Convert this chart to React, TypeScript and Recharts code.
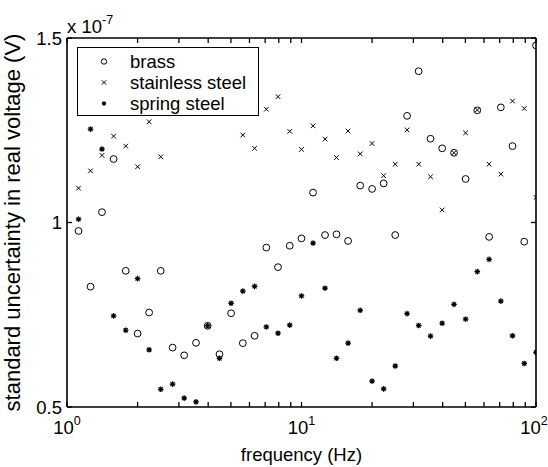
import { Legend, Scatter, ScatterChart, XAxis, YAxis } from "recharts";

const FONT = '"Liberation Sans", Arial, Helvetica, sans-serif';
const FS = 18.5;
const YFS = 22;

// frequencies (Hz), 20 points per decade
const freqs = [
  1.12, 1.26, 1.41, 1.58, 1.78, 2, 2.24, 2.51, 2.82, 3.16, 3.55, 3.98, 4.47, 5.01, 5.62, 6.31, 7.08, 7.94, 8.91, 10,
  11.2, 12.6, 14.1, 15.8, 17.8, 20, 22.4, 25.1, 28.2, 31.6, 35.5, 39.8, 44.7, 50.1, 56.2, 63.1, 70.8, 79.4, 89.1, 100,
];

// standard uncertainty, in units of 1e-7 V
const brass = [
  0.977, 0.826, 1.028, 1.172, 0.869, 0.699, 0.756, 0.869, 0.661, 0.64, 0.674, 0.72, 0.643, 0.754, 0.673, 0.693, 0.932,
  0.879, 0.937, 0.957, 1.081, 0.966, 0.968, 0.95, 1.1, 1.091, 1.106, 0.966, 1.289, 1.41, 1.227, 1.201, 1.189, 1.118,
  1.304, 0.961, 1.312, 1.207, 0.948, 1.48,
];
// points 9-14 sit behind the legend box and can't be read
const stainless = [
  1.093, 1.14, 1.182, 1.234, 1.207, 1.151, 1.273, 1.178, null, null, null, null, null, null, 1.237, 1.201, 1.307, 1.341,
  1.247, 1.198, 1.262, 1.226, 1.176, 1.248, 1.186, 1.214, 1.127, 1.158, 1.251, 1.158, 1.124, 1.034, 1.189, 1.243, 1.305,
  1.158, 1.131, 1.329, 1.309, 1.068,
];
const spring = [
  1.009, 1.253, 1.199, 0.747, 0.708, 0.848, 0.655, 0.548, 0.562, 0.524, 0.514, 0.72, 0.632, 0.781, 0.814, 0.827, 0.717,
  0.7, 0.722, 0.801, 0.944, 0.822, 0.632, 0.673, 0.762, 0.57, 0.549, 0.611, 0.753, 0.721, 0.692, 0.727, 0.778, 0.738,
  0.867, 0.9, 0.787, 0.693, 0.618, 0.648,
];

const seriesNames = ["brass", "stainless steel", "spring steel"];
const xTicks = [1, 2, 3, 4, 5, 6, 7, 8, 9, 10, 20, 30, 40, 50, 60, 70, 80, 90, 100];
const xMajor = [1, 10, 100];
const yTicks = [0.5, 1, 1.5];
const yTickLabels = ["0.5", "1", "1.5"];

const toPoints = (ys: (number | null)[]) =>
  freqs.map((f, i) => ({ f, v: ys[i] })).filter((p) => p.v !== null);

// ticks point into the plot, like MATLAB
const TICK = 5;
const tickLine = { stroke: "#000", strokeWidth: 1.3 };
const axisLine = { stroke: "#000", strokeWidth: 1.6 };

function Circle({ cx, cy, r = 3.4 }: any) {
  return <circle cx={cx} cy={cy} r={r} fill="none" stroke="#000" strokeWidth={1} />;
}
function Cross({ cx, cy, s = 2.3 }: any) {
  return (
    <path d={`M${cx - s},${cy - s}L${cx + s},${cy + s}M${cx - s},${cy + s}L${cx + s},${cy - s}`} stroke="#000" strokeWidth={1} />
  );
}
function Star({ cx, cy, s = 2.8 }: any) {
  const d = s * 0.72;
  return (
    <path
      d={`M${cx - s},${cy}L${cx + s},${cy}M${cx},${cy - s}L${cx},${cy + s}M${cx - d},${cy - d}L${cx + d},${cy + d}M${cx - d},${cy + d}L${cx + d},${cy - d}`}
      stroke="#000"
      strokeWidth={1.2}
    />
  );
}

// bottom axis: tickSize 0, so y arrives on the axis line; draw the inward tick here
function BottomTick({ x, y, payload }: any) {
  const v = payload.value;
  const tx = v === 100 ? x - 2 : x;
  return (
    <g>
      <path d={`M${x},${y}L${x},${y - TICK}`} stroke="#000" strokeWidth={1.3} fill="none" />
      {xMajor.includes(v) && (
        <text x={tx} y={y + 27} textAnchor="middle" fontSize={FS} fontFamily={FONT} fill="#000">
          <tspan>10</tspan>
          <tspan dy={-9} fontSize={12.5}>{Math.round(Math.log10(v))}</tspan>
        </text>
      )}
    </g>
  );
}
function LeftTick({ x, y, payload }: any) {
  return (
    <text x={x - TICK - 5} y={y} dy="0.36em" textAnchor="end" fontSize={FS} fontFamily={FONT} fill="#000">
      {yTickLabels[yTicks.indexOf(payload.value)]}
    </text>
  );
}
const NoLabel = () => <g />;

const XTitle = ({ viewBox }: any) => (
  <text x={viewBox.x + viewBox.width / 2} y={461} textAnchor="middle" fontSize={FS} fontFamily={FONT} fill="#000">
    frequency (Hz)
  </text>
);
const YTitle = ({ viewBox }: any) => {
  const cy = viewBox.y + viewBox.height / 2;
  return (
    <text x={20} y={cy} transform={`rotate(-90 20 ${cy})`} textAnchor="middle" fontSize={YFS} fontFamily={FONT} fill="#000">
      standard uncertainty in real voltage (V)
    </text>
  );
};
const Multiplier = ({ viewBox }: any) => (
  <text x={viewBox.x} y={33} fontSize={FS} fontFamily={FONT} fill="#000">
    <tspan>x 10</tspan>
    <tspan dy={-9} fontSize={12.5}>-7</tspan>
  </text>
);

const markers = [Circle, Cross, Star];

function LegendBox() {
  return (
    <div
      style={{
        position: "relative",
        width: 182,
        height: 69,
        boxSizing: "border-box",
        border: "1.3px solid #000",
        background: "#fff",
        fontFamily: FONT,
        fontSize: FS,
        color: "#000",
      }}
    >
      {seriesNames.map((name, i) => {
        const M = markers[i];
        return (
          <div key={name} style={{ position: "absolute", left: 0, top: 3 + i * 21, height: 21, display: "flex", alignItems: "center" }}>
            <svg width={52} height={21} style={{ display: "block" }}>
              <M cx={26} cy={10.5} r={2.7} s={2.2} />
            </svg>
            <span style={{ lineHeight: "21px", whiteSpace: "nowrap" }}>{name}</span>
          </div>
        );
      })}
    </div>
  );
}

export default function App() {
  return (
    <div style={{ position: "absolute", left: 0, top: 0, background: "#fff" }}>
      <ScatterChart width={548} height={467} margin={{ top: 0, right: 0, bottom: 0, left: 0 }}>
        <XAxis
          xAxisId="b"
          dataKey="f"
          type="number"
          scale="log"
          domain={[1, 100]}
          allowDataOverflow
          ticks={xTicks}
          interval={0}
          tick={<BottomTick />}
          tickLine={false}
          tickSize={0}
          tickMargin={0}
          axisLine={axisLine}
          height={60}
          label={XTitle}
        />
        <XAxis
          xAxisId="t"
          orientation="top"
          dataKey="f"
          type="number"
          scale="log"
          domain={[1, 100]}
          allowDataOverflow
          ticks={xTicks}
          interval={0}
          tick={<NoLabel />}
          tickLine={tickLine}
          tickSize={-TICK}
          tickMargin={0}
          axisLine={axisLine}
          height={38}
          label={Multiplier}
        />
        <YAxis
          yAxisId="l"
          dataKey="v"
          type="number"
          domain={[0.5, 1.5]}
          allowDataOverflow
          ticks={yTicks}
          interval={0}
          tick={<LeftTick />}
          tickLine={tickLine}
          tickSize={-TICK}
          tickMargin={0}
          axisLine={axisLine}
          width={67}
          label={YTitle}
        />
        <YAxis
          yAxisId="r"
          orientation="right"
          dataKey="v"
          type="number"
          domain={[0.5, 1.5]}
          allowDataOverflow
          ticks={yTicks}
          interval={0}
          tick={<NoLabel />}
          tickLine={tickLine}
          tickSize={-TICK}
          tickMargin={0}
          axisLine={axisLine}
          width={12}
        />
        <Scatter name="brass" xAxisId="b" yAxisId="l" data={toPoints(brass)} shape={<Circle />} isAnimationActive={false} />
        <Scatter name="stainless steel" xAxisId="b" yAxisId="l" data={toPoints(stainless)} shape={<Cross />} isAnimationActive={false} />
        <Scatter name="spring steel" xAxisId="b" yAxisId="l" data={toPoints(spring)} shape={<Star />} isAnimationActive={false} />
        <Legend
          layout="vertical"
          align="center"
          verticalAlign="middle"
          width={182}
          height={69}
          wrapperStyle={{ left: 77, top: 47, width: 182, height: 69 }}
          content={() => <LegendBox />}
        />
      </ScatterChart>
    </div>
  );
}
